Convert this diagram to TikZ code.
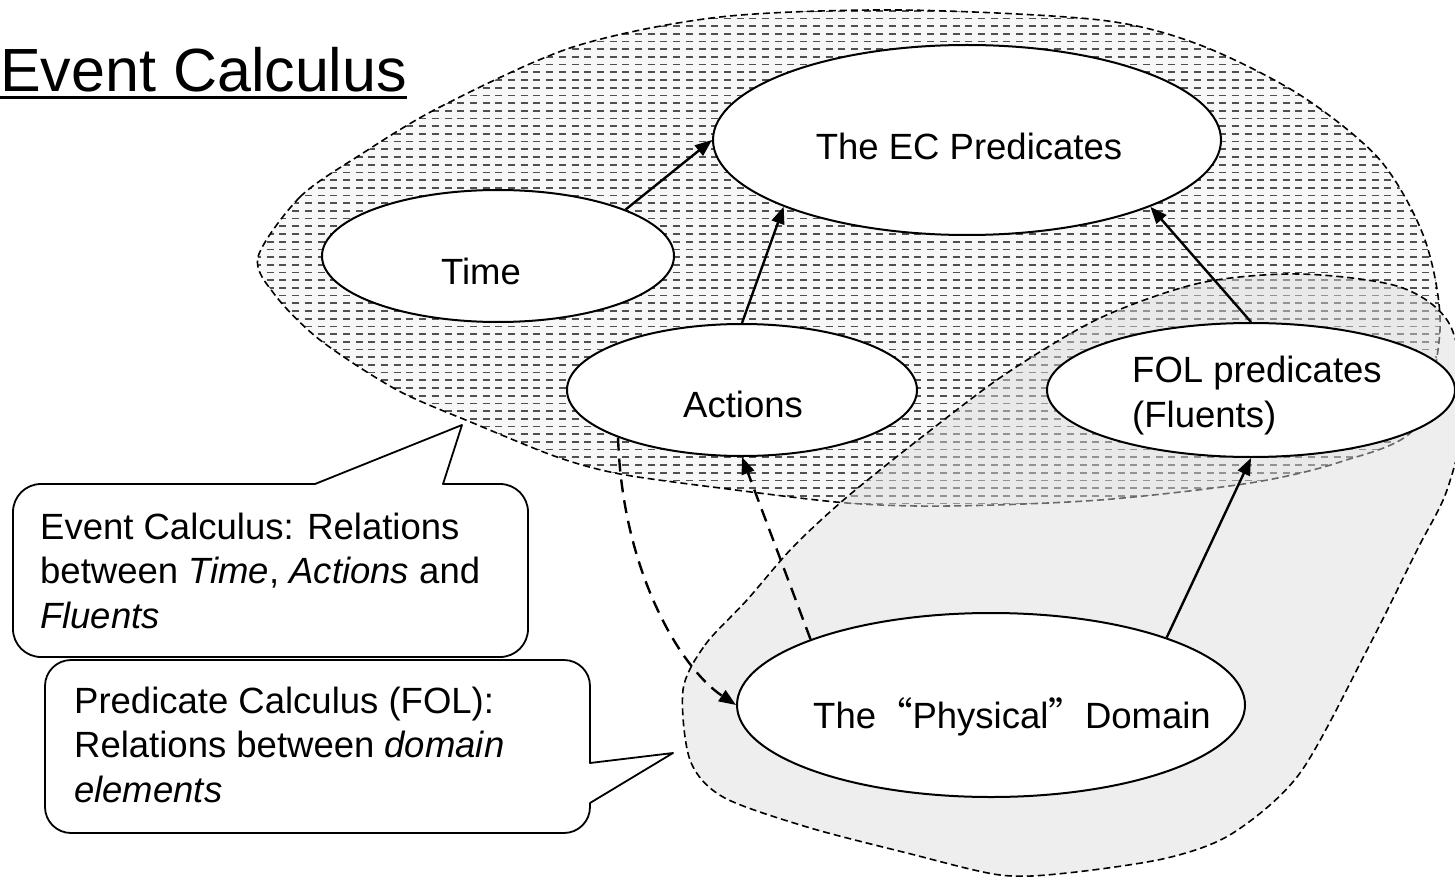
\documentclass[tikz,border=0pt]{standalone}
\usepackage{fontspec}
\setmainfont{Liberation Sans}
\newfontfamily\cjkq{Noto Sans CJK SC}
\usetikzlibrary{arrows.meta,patterns,shapes.geometric}

\pgfdeclarepatternformonly{hdash}{\pgfqpoint{-1pt}{-2pt}}{\pgfqpoint{14pt}{9pt}}{\pgfqpoint{12.7pt}{7.7pt}}{%
  \pgfsetlinewidth{1.7pt}\pgfsetbuttcap
  \pgfpathmoveto{\pgfqpoint{0pt}{3.85pt}}%
  \pgfpathlineto{\pgfqpoint{8pt}{3.85pt}}%
  \pgfusepath{stroke}}

\definecolor{hatchgrey}{RGB}{80,80,80}
\definecolor{blobgrey}{RGB}{219,219,219}

\tikzset{
  ell/.style={ellipse, draw=black, line width=2pt, fill=white, inner sep=0pt},
  txt/.style={inner sep=0pt, font=\fontsize{36.5}{44.5}\selectfont},
  arr/.style={line width=2.4pt, -{Triangle[length=17pt,width=13pt]}},
  darr/.style={line width=2.4pt, dash pattern=on 13pt off 8pt, -{Triangle[length=17pt,width=13pt]}},
  blobline/.style={line width=1.6pt, dash pattern=on 7pt off 4pt},
  callout/.style={draw=black, line width=1.8pt, fill=white, line join=round},
}

\begin{document}
\begin{tikzpicture}[x=1pt,y=-1pt]
\useasboundingbox (0,0) rectangle (1455,877);

% Event Calculus region (hatched)
\path[blobline, draw=black, preaction={fill=black!3}, pattern=hdash, pattern color=hatchgrey]
  plot[smooth cycle] coordinates {(258,257) (300,197) (360,155) (440,107) (573,47) (720,17) (900,10) (1100,20) (1200,45) (1300,95) (1380,160) (1425,240) (1440,330) (1415,428) (1340,462) (1250,483) (1100,500) (950,506) (847,503) (720,488) (620,474) (557,457) (473,423) (397,390) (320,340) (275,295)};

% Predicate calculus region (grey)
\path[blobline, draw=black, fill=blobgrey, fill opacity=0.48]
  plot[smooth cycle] coordinates {(683,690) (705,645) (747,600) (793,547) (847,497) (927,433) (1007,373) (1100,318) (1200,283) (1300,274) (1400,287) (1450,325) (1465,410) (1447,490) (1417,550) (1367,650) (1300,773) (1233,833) (1167,858) (1067,873) (1000,875) (907,853) (807,827) (723,797) (690,760)};

% ellipses
\node[ell, minimum width=508pt, minimum height=190pt] (ec) at (967,140) {};
\node[ell, minimum width=352pt, minimum height=132pt] (time) at (498,256) {};
\node[ell, minimum width=350pt, minimum height=132pt] (act) at (742,390) {};
\node[ell, minimum width=408pt, minimum height=134pt] (fol) at (1251,390) {};
\node[ell, minimum width=508pt, minimum height=184pt] (phys) at (991,705) {};

% texts (base = baseline of the last line)
\node[txt, anchor=base] (ecT) at (969,160) {The EC Predicates};
\node[txt, anchor=base] (timeT) at (481,284) {Time};
\node[txt, anchor=base] (actT) at (743,417) {Actions};
\node[txt, anchor=base west, align=left] (folT) at (1132,427) {FOL predicates\\(Fluents)};
\node[txt, anchor=base west] (physT) at (813,728) {The{\cjkq “}Physical{\cjkq ”}Domain};

% connectors
\draw[arr] (time.20) -- (ec.180);
\draw[arr] (act.90) -- (ec.200);
\draw[arr] (fol.90) -- (ec.340);
\draw[arr] (phys.21) -- (fol.270);
\draw[darr] (phys.160) -- (act.270);
\draw[darr] (act.201.5) .. controls (622,570) and (680,668) .. (phys.180);

% title
\node[anchor=base west, inner sep=0pt, font=\fontsize{61}{70}\selectfont] (title) at (0,92) {Event Calculus};
\draw[line width=3.2pt] ([yshift=-5.5pt]title.base west) -- ([yshift=-5.5pt]title.base east);

% callouts
\draw[callout] (462,425) -- (315,484) [rounded corners=28pt] -- (13,484) -- (13,657) -- (528,657) -- (528,484) [sharp corners] -- (443,484) -- cycle;
\node[txt, anchor=base west, align=left] (cb1) at (40,628) {Event Calculus: Relations\\between \textit{Time}, \textit{Actions} and\\\textit{Fluents}};

\draw[callout] (673,753) -- (590,763) [rounded corners=26pt] -- (590,660) -- (45,660) -- (45,833) -- (590,833) [sharp corners] -- (590,803) -- cycle;
\node[txt, anchor=base west, align=left] (cb2) at (74,802) {Predicate Calculus (FOL):\\Relations between \textit{domain}\\\textit{elements}};
\end{tikzpicture}
\end{document}
